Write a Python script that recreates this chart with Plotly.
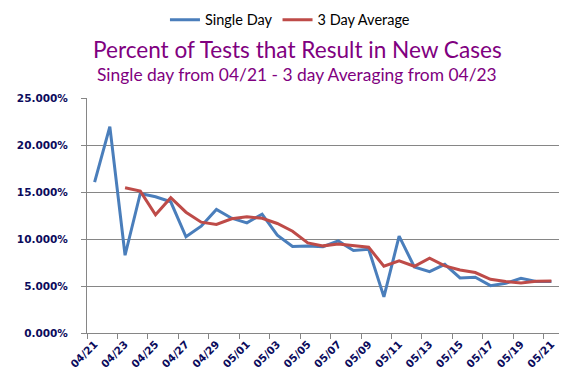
import plotly.graph_objects as go

dates = ["04/21", "04/22", "04/23", "04/24", "04/25", "04/26", "04/27", "04/28",
         "04/29", "04/30", "05/01", "05/02", "05/03", "05/04", "05/05", "05/06",
         "05/07", "05/08", "05/09", "05/10", "05/11", "05/12", "05/13", "05/14",
         "05/15", "05/16", "05/17", "05/18", "05/19", "05/20", "05/21"]

single_day = [16.05, 21.95, 8.27, 14.84, 14.49, 13.96, 10.23, 11.36, 13.14, 12.21,
              11.72, 12.64, 10.40, 9.20, 9.25, 9.18, 9.80, 8.77, 8.91, 3.84,
              10.30, 7.03, 6.53, 7.31, 5.86, 5.93, 5.04, 5.29, 5.82, 5.47, 5.47]

three_day_avg = [None, None, 15.45, 15.09, 12.57, 14.39, 12.85, 11.79, 11.54, 12.15,
                 12.36, 12.21, 11.65, 10.83, 9.59, 9.27, 9.48, 9.27, 9.12, 7.10,
                 7.67, 7.10, 7.95, 7.14, 6.71, 6.43, 5.71, 5.47, 5.33, 5.50, 5.54]

y_ticks = [0, 5, 10, 15, 20, 25]

title_text = "Percent of Tests that Result in New Cases"
subtitle_text = "Single day from 04/21 - 3 day Averaging from 04/23"

idx = list(range(len(dates)))
label_idx = idx[::2]
label_text = [dates[i] for i in label_idx]

GRID = "#868686"
NAVY = "#0B0B5C"
PURPLE = "#800080"
TXT_FONT = "Lato, 'Open Sans', sans-serif"
LBL_FONT = dict(family="'DejaVu Sans', Verdana, sans-serif", size=10.5, color=NAVY, weight="bold")

fig = go.Figure()
fig.add_trace(go.Scatter(x=idx, y=single_day, mode="lines", name="Single Day",
                         line=dict(color="#4A7EBB", width=3)))
fig.add_trace(go.Scatter(x=idx, y=three_day_avg, mode="lines", name="3 Day Average",
                         line=dict(color="#BE4B48", width=3)))

fig.update_layout(
    width=569, height=376,
    margin=dict(l=78.7, r=18, t=90.3, b=50.7, autoexpand=False),
    paper_bgcolor="white", plot_bgcolor="white",
    showlegend=True,
    legend=dict(orientation="h", x=0.43, xanchor="center", y=1.333, yanchor="middle",
                font=dict(family=TXT_FONT, size=14.5, color="black"),
                itemwidth=30, bgcolor="rgba(0,0,0,0)"),
    annotations=[
        dict(text=title_text, xref="paper", yref="paper", x=0.445, y=1.2055,
             xanchor="center", yanchor="middle", showarrow=False,
             font=dict(family=TXT_FONT, size=22.6, color=PURPLE)),
        dict(text=subtitle_text, xref="paper", yref="paper", x=0.445, y=1.099,
             xanchor="center", yanchor="middle", showarrow=False,
             font=dict(family=TXT_FONT, size=17.4, color=PURPLE)),
    ],
)

fig.update_xaxes(
    range=[-0.5, len(dates) - 0.5], automargin=False,
    tickmode="array", tickvals=label_idx, ticktext=label_text,
    tickangle=-45, tickfont=LBL_FONT, ticks="",
    showline=True, linecolor=GRID, linewidth=1,
    showgrid=False, zeroline=False,
    minor=dict(tickvals=[i - 0.5 for i in label_idx], ticks="outside", ticklen=5,
               tickcolor=GRID, tickwidth=1, showgrid=False),
)

fig.update_yaxes(
    range=[0, 25], automargin=False,
    tickmode="array", tickvals=y_ticks, ticktext=[f"{v:.3f}%" for v in y_ticks],
    tickfont=LBL_FONT, ticks="outside", ticklen=5, tickcolor=GRID,
    ticklabelstandoff=11,
    showline=True, linecolor=GRID, linewidth=1,
    showgrid=True, gridcolor=GRID, gridwidth=1, zeroline=False,
)

fig.write_html("out.html")
